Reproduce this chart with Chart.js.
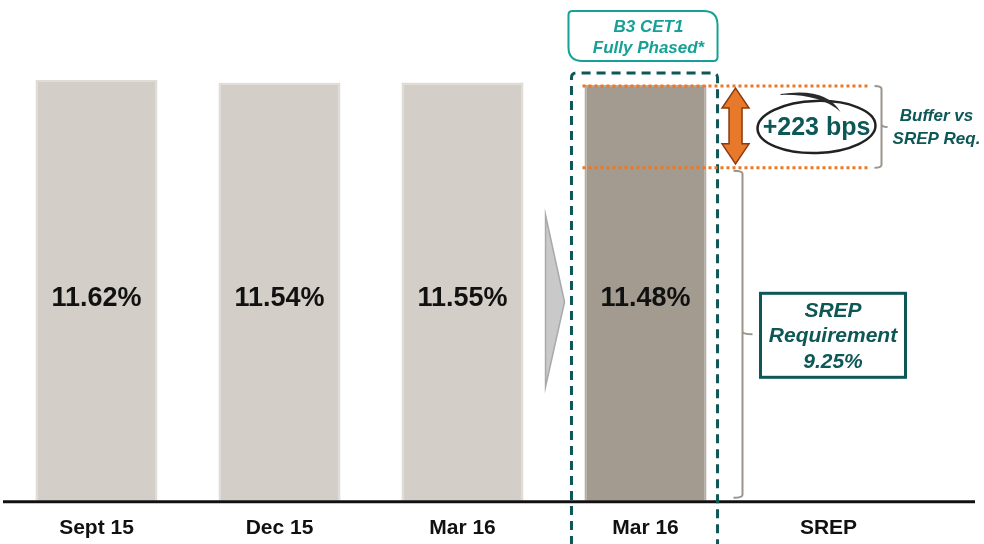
<!DOCTYPE html>
<html>
<head>
<meta charset="utf-8">
<script src="https://cdn.jsdelivr.net/npm/chart.js@4.4.0/dist/chart.umd.min.js"></script>
<style>
body { margin: 0; background: #fff; }
#wrap { width: 984px; height: 544px; position: relative; }
</style>
</head>
<body>
<div id="wrap"><canvas id="chart"></canvas></div>
<script>
// данные
const categories = ['Sept 15', 'Dec 15', 'Mar 16', 'Mar 16', 'SREP'];
const cet1Values = [11.62, 11.54, 11.55, 11.48, null];
const srepRequirement = 9.25;
const fullyPhasedIndex = 3;
const barColors = ['#d3cfc8', '#d3cfc8', '#d3cfc8', '#a39b8f', '#d3cfc8'];
const barBorders = ['#dfdcd6', '#dfdcd6', '#dfdcd6', '#b3ada3', '#dfdcd6'];

const FONT = "'Liberation Sans', Arial, sans-serif";
const TEAL = '#0d5757';
const TEAL_LIGHT = '#17a096';
const ORANGE = '#e8792a';
const BRACKET = '#9c948b';

function roundRectCustom(ctx, x, y, w, h, r) {
    // r = [tl, tr, br, bl]
    ctx.beginPath();
    ctx.moveTo(x + r[0], y);
    ctx.lineTo(x + w - r[1], y);
    ctx.quadraticCurveTo(x + w, y, x + w, y + r[1]);
    ctx.lineTo(x + w, y + h - r[2]);
    ctx.quadraticCurveTo(x + w, y + h, x + w - r[2], y + h);
    ctx.lineTo(x + r[3], y + h);
    ctx.quadraticCurveTo(x, y + h, x, y + h - r[3]);
    ctx.lineTo(x, y + r[0]);
    ctx.quadraticCurveTo(x, y, x + r[0], y);
    ctx.closePath();
}

// фигурная скобка: концы загнуты влево, середина вправо
function brace(ctx, x, top, bottom, hook, tip) {
    const mid = (top + bottom) / 2;
    ctx.beginPath();
    ctx.moveTo(x - hook, top);
    ctx.quadraticCurveTo(x, top, x, top + 3);
    ctx.lineTo(x, mid - 3);
    ctx.quadraticCurveTo(x, mid, x + tip, mid);
    ctx.moveTo(x, mid - 3);
    ctx.quadraticCurveTo(x, mid, x, mid + 3);
    ctx.lineTo(x, bottom - 3);
    ctx.quadraticCurveTo(x, bottom, x - hook, bottom);
    ctx.stroke();
}

const annotations = {
    id: 'annotations',
    afterDatasetsDraw(chart) {
        const { ctx, scales: { x, y } } = chart;
        const meta = chart.getDatasetMeta(0);
        const y0 = y.getPixelForValue(0);

        // базовая линия
        ctx.save();
        ctx.strokeStyle = '#111';
        ctx.lineWidth = 3;
        ctx.beginPath();
        ctx.moveTo(3, y0 + 1);
        ctx.lineTo(975, y0 + 1);
        ctx.stroke();

        // подписи значений
        ctx.fillStyle = '#111';
        ctx.font = 'bold 27px ' + FONT;
        ctx.textAlign = 'center';
        ctx.textBaseline = 'middle';
        meta.data.forEach((bar, i) => {
            if (cet1Values[i] == null) return;
            ctx.fillText(cet1Values[i].toFixed(2) + '%', bar.x, (y.getPixelForValue(cet1Values[0]) + y0) / 2 + 8);
        });

        // серая стрелка-шеврон
        const b2 = meta.data[2];
        const cx = b2.x + b2.width / 2 + 22;
        ctx.fillStyle = '#c9c9c9';
        ctx.strokeStyle = '#a9a9a9';
        ctx.lineWidth = 1.5;
        ctx.beginPath();
        ctx.moveTo(cx, 215);
        ctx.lineTo(cx + 19, 302);
        ctx.lineTo(cx, 387);
        ctx.closePath();
        ctx.fill();
        ctx.stroke();

        // пунктирная рамка вокруг fully phased
        const fb = meta.data[fullyPhasedIndex];
        const left = fb.x - fb.width / 2 - 13;
        const right = fb.x + fb.width / 2 + 11;
        ctx.strokeStyle = TEAL;
        ctx.lineWidth = 3;
        ctx.setLineDash([9, 6]);
        ctx.beginPath();
        ctx.moveTo(left, 560);
        ctx.lineTo(left, 78);
        ctx.quadraticCurveTo(left, 73, left + 5, 73);
        ctx.lineTo(right - 5, 73);
        ctx.quadraticCurveTo(right, 73, right, 78);
        ctx.lineTo(right, 560);
        ctx.stroke();
        ctx.setLineDash([]);

        // выноска B3 CET1
        ctx.strokeStyle = TEAL_LIGHT;
        ctx.lineWidth = 2;
        roundRectCustom(ctx, left - 3, 11, right - left + 3, 50, [4, 14, 4, 14]);
        ctx.fillStyle = '#fff';
        ctx.fill();
        ctx.stroke();
        ctx.fillStyle = TEAL_LIGHT;
        ctx.font = 'italic bold 17px ' + FONT;
        ctx.fillText('B3 CET1', fb.x + 3, 27);
        ctx.fillText('Fully Phased*', fb.x + 3, 48);

        // оранжевые пунктирные линии
        const yTop = y.getPixelForValue(cet1Values[fullyPhasedIndex]) + 1;
        const ySrep = y.getPixelForValue(srepRequirement) + 2;
        const srepX = x.getPixelForValue(4);
        ctx.strokeStyle = ORANGE;
        ctx.lineWidth = 3;
        ctx.setLineDash([3, 3]);
        ctx.beginPath();
        ctx.moveTo(fb.x - fb.width / 2 - 2, yTop);
        ctx.lineTo(srepX + 42, yTop);
        ctx.moveTo(fb.x - fb.width / 2 - 2, ySrep);
        ctx.lineTo(srepX + 42, ySrep);
        ctx.stroke();
        ctx.setLineDash([]);

        // двойная оранжевая стрелка
        const ax = fb.x + fb.width / 2 + 29;
        const at = yTop + 2, ab = ySrep - 4;
        ctx.fillStyle = ORANGE;
        ctx.strokeStyle = '#8b3a0f';
        ctx.lineWidth = 1.5;
        ctx.beginPath();
        ctx.moveTo(ax, at);
        ctx.lineTo(ax + 13.5, at + 20);
        ctx.lineTo(ax + 6.5, at + 20);
        ctx.lineTo(ax + 6.5, ab - 20);
        ctx.lineTo(ax + 13.5, ab - 20);
        ctx.lineTo(ax, ab);
        ctx.lineTo(ax - 13.5, ab - 20);
        ctx.lineTo(ax - 6.5, ab - 20);
        ctx.lineTo(ax - 6.5, at + 20);
        ctx.lineTo(ax - 13.5, at + 20);
        ctx.closePath();
        ctx.fill();
        ctx.stroke();

        // эллипс +223 bps
        const ex = srepX - 12, ey = (yTop + ySrep) / 2;
        ctx.strokeStyle = '#222';
        ctx.lineWidth = 2.5;
        ctx.beginPath();
        ctx.ellipse(ex, ey, 59, 26, -0.03, 0, Math.PI * 2);
        ctx.stroke();
        // мазок сверху
        ctx.fillStyle = '#2a2a2a';
        ctx.beginPath();
        ctx.moveTo(ex - 36, ey - 33);
        ctx.quadraticCurveTo(ex + 10, ey - 40, ex + 24, ey - 15);
        ctx.quadraticCurveTo(ex + 4, ey - 33, ex - 36, ey - 32);
        ctx.closePath();
        ctx.fill();
        const bps = Math.round((cet1Values[fullyPhasedIndex] - srepRequirement) * 100);
        ctx.fillStyle = TEAL;
        ctx.font = 'bold 25px ' + FONT;
        ctx.fillText('+' + bps + ' bps', ex, ey + 1);

        // малая скобка и подпись Buffer
        ctx.strokeStyle = BRACKET;
        ctx.lineWidth = 2;
        brace(ctx, srepX + 53, yTop, ySrep, 7, 6);
        ctx.fillStyle = TEAL;
        ctx.font = 'italic bold 17px ' + FONT;
        ctx.fillText('Buffer vs', srepX + 108, ey - 11);
        ctx.fillText('SREP Req.', srepX + 108, ey + 12);

        // большая скобка SREP
        brace(ctx, srepX - 86, ySrep + 3, y0 - 3, 9, 10);

        // рамка SREP Requirement
        const boxL = srepX - 68, boxR = srepX + 77;
        const boxMid = (ySrep + y0) / 2;
        ctx.strokeStyle = TEAL;
        ctx.lineWidth = 3;
        ctx.strokeRect(boxL, boxMid - 41, boxR - boxL, 84);
        ctx.fillStyle = TEAL;
        ctx.font = 'italic bold 21px ' + FONT;
        const bx = (boxL + boxR) / 2;
        ctx.fillText('SREP', bx, boxMid - 23);
        ctx.fillText('Requirement', bx, boxMid + 2);
        ctx.fillText(srepRequirement.toFixed(2) + '%', bx, boxMid + 28);
        ctx.restore();
    }
};

new Chart(document.getElementById('chart'), {
    type: 'bar',
    data: {
        labels: categories,
        datasets: [{
            data: cet1Values,
            backgroundColor: barColors,
            borderColor: barBorders,
            borderWidth: { left: 2, right: 2, top: 2, bottom: 0 },
            categoryPercentage: 1,
            barPercentage: 0.667
        }]
    },
    options: {
        responsive: true,
        maintainAspectRatio: false,
        animation: false,
        events: [],
        layout: { padding: { left: 5, right: 64, top: 30, bottom: -12 } },
        plugins: {
            legend: { display: false },
            tooltip: { enabled: false }
        },
        scales: {
            x: {
                grid: { display: false, drawTicks: false },
                border: { display: false },
                ticks: {
                    color: '#111',
                    padding: 15,
                    font: { family: FONT, size: 21, weight: 'bold' }
                }
            },
            y: {
                display: false,
                min: 0,
                max: 13
            }
        }
    },
    plugins: [annotations]
});
</script>
</body>
</html>
